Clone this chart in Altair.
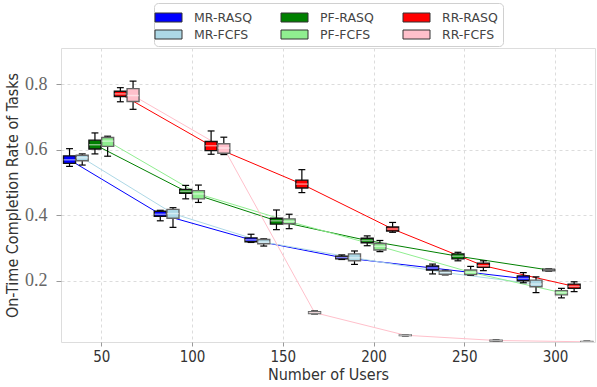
import altair as alt
import pandas as pd

users = [50, 100, 150, 200, 250, 300]
series_names = ["MR-RASQ", "MR-FCFS", "PF-RASQ", "PF-FCFS", "RR-RASQ", "RR-FCFS"]
legend_order = ["MR-RASQ", "PF-RASQ", "RR-RASQ", "MR-FCFS", "PF-FCFS", "RR-FCFS"]
legend_colors = ["#0000ff", "#008000", "#ff0000", "#add8e6", "#90ee90", "#ffc0cb"]

# box statistics per series: whisker low, q1, median, q3, whisker high
mr_rasq_lo = [0.549, 0.383, 0.317, 0.265, 0.221, 0.194]
mr_rasq_q1 = [0.558, 0.397, 0.319, 0.267, 0.233, 0.200]
mr_rasq_med = [0.569, 0.403, 0.325, 0.271, 0.239, 0.207]
mr_rasq_q3 = [0.581, 0.412, 0.331, 0.275, 0.245, 0.215]
mr_rasq_hi = [0.603, 0.415, 0.342, 0.279, 0.251, 0.225]

mr_fcfs_lo = [0.553, 0.363, 0.306, 0.250, 0.218, 0.164]
mr_fcfs_q1 = [0.566, 0.391, 0.313, 0.261, 0.220, 0.182]
mr_fcfs_med = [0.575, 0.405, 0.318, 0.270, 0.225, 0.190]
mr_fcfs_q3 = [0.583, 0.418, 0.326, 0.282, 0.230, 0.202]
mr_fcfs_hi = [0.587, 0.423, 0.328, 0.291, 0.232, 0.212]

pf_rasq_lo = [0.587, 0.450, 0.356, 0.307, 0.261, 0.230]
pf_rasq_q1 = [0.602, 0.467, 0.373, 0.316, 0.267, 0.231]
pf_rasq_med = [0.615, 0.473, 0.383, 0.323, 0.275, 0.233]
pf_rasq_q3 = [0.629, 0.479, 0.391, 0.330, 0.282, 0.235]
pf_rasq_hi = [0.651, 0.491, 0.416, 0.337, 0.287, 0.236]

pf_fcfs_lo = [0.580, 0.439, 0.359, 0.289, 0.217, 0.148]
pf_fcfs_q1 = [0.610, 0.450, 0.374, 0.294, 0.219, 0.157]
pf_fcfs_med = [0.626, 0.465, 0.381, 0.305, 0.226, 0.164]
pf_fcfs_q3 = [0.637, 0.475, 0.389, 0.314, 0.233, 0.170]
pf_fcfs_hi = [0.641, 0.492, 0.403, 0.323, 0.244, 0.177]

rr_rasq_lo = [0.746, 0.586, 0.469, 0.348, 0.231, 0.167]
rr_rasq_q1 = [0.762, 0.597, 0.483, 0.352, 0.241, 0.177]
rr_rasq_med = [0.770, 0.612, 0.495, 0.358, 0.246, 0.183]
rr_rasq_q3 = [0.778, 0.625, 0.507, 0.364, 0.254, 0.190]
rr_rasq_hi = [0.789, 0.657, 0.539, 0.378, 0.261, 0.197]

rr_fcfs_lo = [0.723, 0.585, 0.099, 0.032, 0.015, 0.012]
rr_fcfs_q1 = [0.747, 0.589, 0.100, 0.033, 0.016, 0.013]
rr_fcfs_med = [0.765, 0.605, 0.103, 0.034, 0.018, 0.014]
rr_fcfs_q3 = [0.786, 0.618, 0.106, 0.035, 0.019, 0.015]
rr_fcfs_hi = [0.809, 0.638, 0.108, 0.036, 0.020, 0.016]

stats = {
    "MR-RASQ": (mr_rasq_lo, mr_rasq_q1, mr_rasq_med, mr_rasq_q3, mr_rasq_hi),
    "MR-FCFS": (mr_fcfs_lo, mr_fcfs_q1, mr_fcfs_med, mr_fcfs_q3, mr_fcfs_hi),
    "PF-RASQ": (pf_rasq_lo, pf_rasq_q1, pf_rasq_med, pf_rasq_q3, pf_rasq_hi),
    "PF-FCFS": (pf_fcfs_lo, pf_fcfs_q1, pf_fcfs_med, pf_fcfs_q3, pf_fcfs_hi),
    "RR-RASQ": (rr_rasq_lo, rr_rasq_q1, rr_rasq_med, rr_rasq_q3, rr_rasq_hi),
    "RR-FCFS": (rr_fcfs_lo, rr_fcfs_q1, rr_fcfs_med, rr_fcfs_q3, rr_fcfs_hi),
}

# dodge offsets (layout) for the six boxes in each user group
OFFSETS = [-17.5, -10.5, -3.5, 3.5, 10.5, 17.5]
BOX_HALF = 3.3
CAP_HALF = 1.9

rows = []
for i, name in enumerate(series_names):
    lo, q1, med, q3, hi = stats[name]
    for j, u in enumerate(users):
        rows.append({
            "series": name,
            "kind": name.split("-")[1],
            "xc": u + OFFSETS[i],
            "lo": lo[j], "q1": q1[j], "med": med[j], "q3": q3[j], "hi": hi[j],
        })
df = pd.DataFrame(rows)

x_scale = alt.Scale(domain=[27.8, 322], nice=False, zero=False)
y_scale = alt.Scale(domain=[0.0134, 0.91], nice=False, zero=False)
color_scale = alt.Scale(domain=legend_order, range=legend_colors)

x_axis = alt.Axis(
    values=users, grid=True, gridDash=[3, 3], gridColor="#dcdcdc", gridWidth=1,
    labelFont="'DejaVu Sans Condensed', 'DejaVu Sans'", labelFontSize=15, labelColor="#333",
    tickSize=4, tickColor="#999", labelPadding=3, domain=False,
    titleFont="'DejaVu Sans Condensed', 'DejaVu Sans'", titleFontSize=16, titleFontWeight="normal",
    titleColor="#333", titlePadding=2,
)
y_axis = alt.Axis(
    values=[0.2, 0.4, 0.6, 0.8], format=".1f", grid=True, gridDash=[3, 3], gridColor="#dcdcdc",
    gridWidth=1, labelFont="'Liberation Serif', 'DejaVu Serif'", labelFontSize=18,
    labelColor="#666", tickSize=5, tickColor="#999", labelPadding=9, domain=False,
    titleFont="'DejaVu Sans Condensed', 'DejaVu Sans'", titleFontSize=16, titleFontWeight="normal",
    titleColor="#333", titlePadding=4,
)
XT = "Number of Users"
YT = "On-Time Completion Rate of Tasks"

base = alt.Chart(df).transform_calculate(
    bl=f"datum.xc - {BOX_HALF}", br=f"datum.xc + {BOX_HALF}",
    cl=f"datum.xc - {CAP_HALF}", cr=f"datum.xc + {CAP_HALF}",
)

lines = base.mark_line(strokeWidth=1, clip=True).encode(
    x=alt.X("xc:Q", scale=x_scale, axis=x_axis, title=XT),
    y=alt.Y("med:Q", scale=y_scale, axis=y_axis, title=YT),
    color=alt.Color("series:N", scale=color_scale, legend=None),
    detail="series:N",
)

whiskers = base.mark_rule(color="black", strokeWidth=1.2, clip=True).encode(
    x=alt.X("xc:Q", scale=x_scale, axis=x_axis, title=XT),
    y=alt.Y("lo:Q", scale=y_scale, axis=y_axis, title=YT),
    y2="hi:Q",
)

cap_lo = base.mark_rule(color="black", strokeWidth=1.2, clip=True).encode(
    x=alt.X("cl:Q", scale=x_scale, axis=x_axis, title=XT),
    x2="cr:Q",
    y=alt.Y("lo:Q", scale=y_scale, axis=y_axis, title=YT),
)
cap_hi = base.mark_rule(color="black", strokeWidth=1.2, clip=True).encode(
    x=alt.X("cl:Q", scale=x_scale, axis=x_axis, title=XT),
    x2="cr:Q",
    y=alt.Y("hi:Q", scale=y_scale, axis=y_axis, title=YT),
)

boxes = base.mark_bar(strokeWidth=1.4, clip=True).encode(
    x=alt.X("bl:Q", scale=x_scale, axis=x_axis, title=XT),
    x2="br:Q",
    y=alt.Y("q1:Q", scale=y_scale, axis=y_axis, title=YT),
    y2="q3:Q",
    fill=alt.Fill(
        "series:N", scale=color_scale, title=None,
        legend=alt.Legend(
            orient="none", legendX=93, legendY=-45, columns=3, direction="horizontal",
            symbolType="M-1.5,-0.5H1.5V0.5H-1.5Z", symbolSize=324,
            symbolStrokeColor="#333", symbolStrokeWidth=1, symbolOpacity=1,
            labelFont="'DejaVu Sans'", labelFontSize=12.5, labelColor="#444",
            labelOffset=16, columnPadding=27, rowPadding=1, padding=5,
            strokeColor="#d0d0d0", cornerRadius=4, fillColor="white",
        ),
    ),
    stroke=alt.Stroke("kind:N", scale=alt.Scale(domain=["RASQ", "FCFS"], range=["#111111", "#666666"]), legend=None),
)

medians = base.mark_rule(color="white", opacity=0.5, strokeWidth=1.5, clip=True).encode(
    x=alt.X("bl:Q", scale=x_scale, axis=x_axis, title=XT),
    x2="br:Q",
    y=alt.Y("med:Q", scale=y_scale, axis=y_axis, title=YT),
)

chart = alt.layer(lines, whiskers, cap_lo, cap_hi, boxes, medians).resolve_scale(
    color="independent", fill="independent", stroke="independent"
).properties(
    width=534, height=294,
    autosize=alt.AutoSizeParams(type="none"),
    padding={"left": 61, "top": 48, "right": 2, "bottom": 45},
).configure_view(stroke="#222", strokeWidth=1.2).configure(background="white")

chart.save("out.html", embed_options={"renderer": "svg", "actions": False})
